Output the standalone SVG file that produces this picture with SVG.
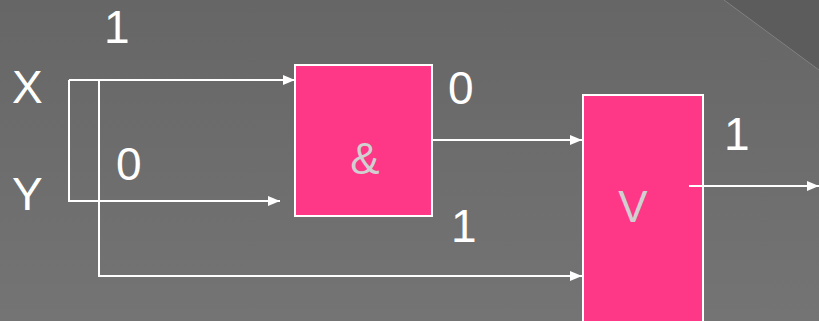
<svg xmlns="http://www.w3.org/2000/svg" width="819" height="321" viewBox="0 0 819 321">
  <defs>
    <linearGradient id="bg" x1="0" y1="0" x2="0" y2="1">
      <stop offset="0" stop-color="#666666"/>
      <stop offset="1" stop-color="#747474"/>
    </linearGradient>
    <marker id="arr" viewBox="0 0 12 10" refX="12" refY="5" markerWidth="12" markerHeight="10" markerUnits="userSpaceOnUse" orient="auto">
      <path d="M0,0 L12,5 L0,10 Z" fill="#ffffff"/>
    </marker>
    <style>
      .lbl { font-family: "Century Gothic", "URW Gothic", "Liberation Sans", sans-serif; font-size: 46px; fill: #ffffff; }
      .sym { font-family: "Century Gothic", "URW Gothic", "Liberation Sans", sans-serif; font-size: 44px; fill: #d0d0d0; text-anchor: middle; }
      .gate { fill: #ff3787; stroke: #ffffff; stroke-width: 2; }
      .wire { fill: none; stroke: #ffffff; stroke-width: 2; }
    </style>
  </defs>
  <rect x="0" y="0" width="819" height="321" fill="url(#bg)"/>
  <polygon points="724,0 819,70 819,0" fill="#5c5c5c"/>
  <line x1="724" y1="0" x2="819" y2="70" stroke="#808080" stroke-width="1"/>

  <g id="labels">
    <text class="lbl" x="12" y="103">X</text>
    <text class="lbl" x="12" y="210">Y</text>
    <text class="lbl" x="104" y="43">1</text>
    <text class="lbl" x="116" y="180">0</text>
    <text class="lbl" x="448" y="104">0</text>
    <text class="lbl" x="451" y="242">1</text>
    <text class="lbl" x="724" y="150">1</text>
  </g>

  <g id="and-gate">
    <rect class="gate" x="295" y="65" width="137" height="151"/>
    <text class="sym" x="365" y="174">&amp;</text>
  </g>

  <g id="or-gate">
    <rect class="gate" x="583" y="95" width="120" height="240"/>
    <text class="sym" x="633" y="222">V</text>
  </g>

  <g id="connectors">
    <path class="wire" d="M69,80 H295" marker-end="url(#arr)"/>
    <path class="wire" d="M69,80 V201 H280" marker-end="url(#arr)"/>
    <path class="wire" d="M99,80 V276 H582" marker-end="url(#arr)"/>
    <path class="wire" d="M432,140 H582" marker-end="url(#arr)"/>
    <path class="wire" d="M689,186 H819" marker-end="url(#arr)"/>
  </g>
</svg>
